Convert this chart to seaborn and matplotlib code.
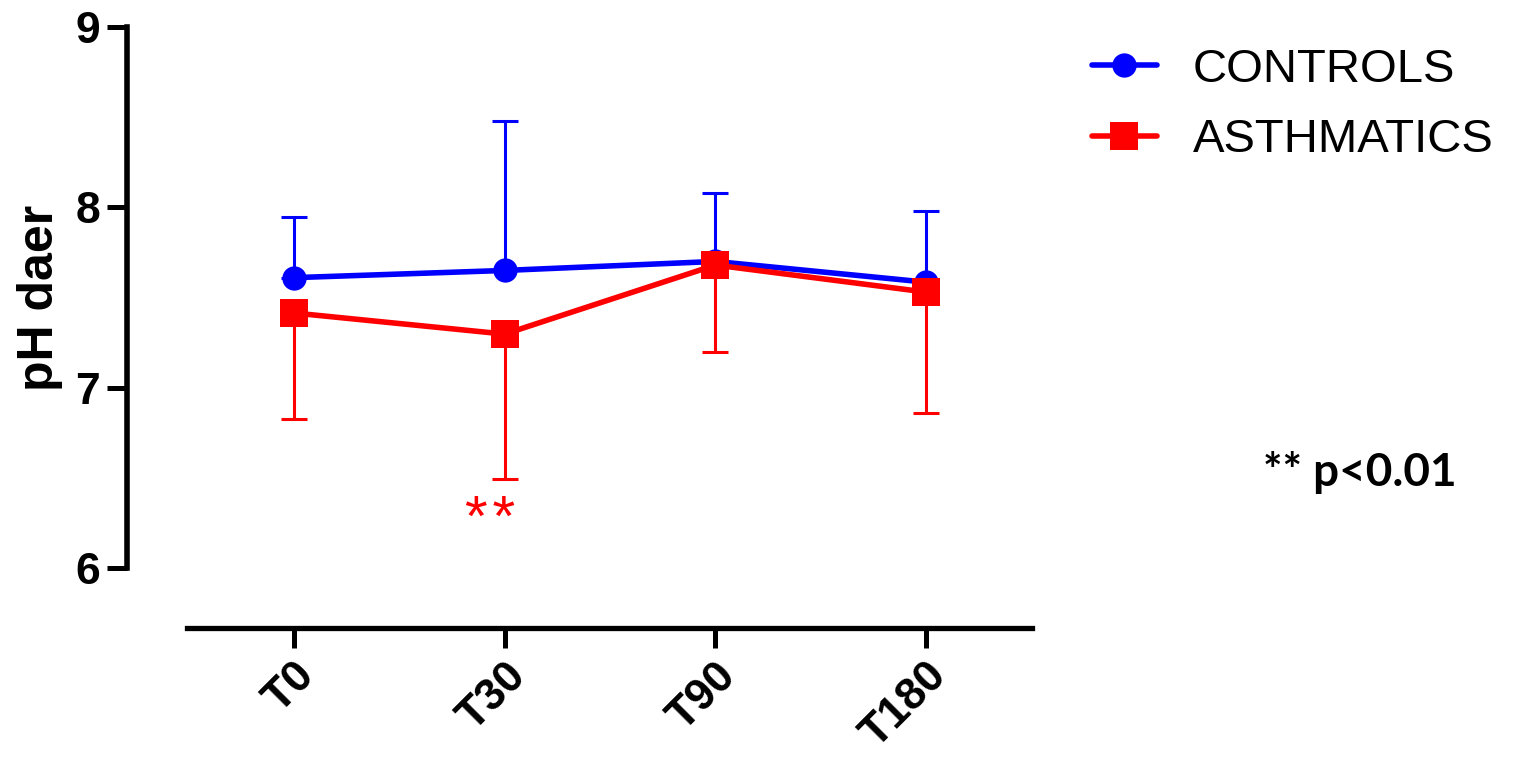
import matplotlib
matplotlib.use("Agg")
import matplotlib.pyplot as plt
import seaborn as sns
import numpy as np
import pandas as pd

# ---- data ----
times = ["T0", "T30", "T90", "T180"]
groups = ["CONTROLS", "ASTHMATICS"]
controls_mean = [7.61, 7.65, 7.70, 7.585]
controls_upper = [7.946, 8.479, 8.079, 7.98]     # mean + SD (upper bar only)
asthmatics_mean = [7.414, 7.297, 7.68, 7.53]
asthmatics_lower = [6.826, 6.493, 7.197, 6.86]   # mean - SD (lower bar only)
yticks = [6, 7, 8, 9]
ylabel = "pH daer"
sig_label = "*\u200a*"
pval_note = "** p<0.01"

colors = {"CONTROLS": "#0000FF", "ASTHMATICS": "#FF0000"}
markers = {"CONTROLS": "o", "ASTHMATICS": "s"}
msizes = {"CONTROLS": 17.5, "ASTHMATICS": 19.5}

pos = np.arange(len(times))
df = pd.DataFrame({
    "pos": np.concatenate([pos, pos]),
    "time": times * 2,
    "group": [groups[0]] * len(times) + [groups[1]] * len(times),
    "pH": controls_mean + asthmatics_mean,
})

sns.set_style("ticks")
plt.rcParams["font.family"] = ["Liberation Sans", "DejaVu Sans"]
plt.rcParams["text.color"] = "black"
plt.rcParams["axes.labelcolor"] = "black"
plt.rcParams["xtick.color"] = "black"
plt.rcParams["ytick.color"] = "black"

W, H = 1518, 757
fig = plt.figure(figsize=(W / 100, H / 100), dpi=100)
ax = fig.add_axes([187 / W, 1 - 628 / H, (1032 - 187) / W, (628 - 20) / H])

# error bars (one-sided)
cm = np.array(controls_mean)
am = np.array(asthmatics_mean)
ax.errorbar(pos, cm, yerr=[np.zeros_like(cm), np.array(controls_upper) - cm],
            fmt="none", ecolor=colors["CONTROLS"], elinewidth=2.2,
            capsize=9.7, capthick=2.2, zorder=1)
ax.errorbar(pos, am, yerr=[am - np.array(asthmatics_lower), np.zeros_like(am)],
            fmt="none", ecolor=colors["ASTHMATICS"], elinewidth=2.2,
            capsize=9.7, capthick=2.2, zorder=1)

for g in groups:
    sns.lineplot(data=df[df["group"] == g], x="pos", y="pH", color=colors[g],
                 marker=markers[g], markersize=msizes[g], markeredgewidth=0,
                 linewidth=4, label=g, ax=ax, zorder=3, errorbar=None)

ax.set_xlim(-0.508, 3.503)
ax.set_ylim(5.667, 9.039)
ax.set_xticks(pos)
ax.set_xticklabels(times)
ax.set_yticks(yticks)
ax.set_yticklabels([str(v) for v in yticks])
ax.set_xlabel("")

for s in ["top", "right"]:
    ax.spines[s].set_visible(False)
ax.spines["left"].set_position(("outward", 43.2))
ax.spines["left"].set_bounds(6, 9)
ax.spines["left"].set_linewidth(4)
ax.spines["bottom"].set_linewidth(3.8)
ax.spines["left"].set_color("black")
ax.spines["bottom"].set_color("black")

ax.tick_params(axis="both", length=14.4, width=3.6, labelsize=32, pad=5,
               colors="black", direction="out")
for lbl in ax.get_yticklabels():
    lbl.set_fontweight("bold")
for lbl in ax.get_xticklabels():
    lbl.set_fontweight("bold")
    lbl.set_rotation(45)
    lbl.set_ha("right")
    lbl.set_rotation_mode("anchor")

ax.set_ylabel(ylabel, fontsize=36, fontweight="bold", color="black")
ax.yaxis.set_label_coords(-0.147, 0.5436)

ax.text(0.93, 6.175, sig_label, color="red", fontsize=42, ha="center", va="baseline")

handles, labels = ax.get_legend_handles_labels()
leg = ax.legend(handles, labels, loc="upper left", bbox_to_anchor=(1092 / W, 1 - 48 / H),
                bbox_transform=fig.transFigure, frameon=False, fontsize=34,
                handlelength=1.37, handletextpad=0.76, labelspacing=0.56,
                borderpad=0, borderaxespad=0)
for t in leg.get_texts():
    t.set_color("black")

fig.text(1360 / W, 1 - 472 / H, pval_note, fontsize=33, fontweight="bold",
         family=["Lato", "DejaVu Sans"], ha="center", va="center", color="black")

fig.savefig("out.png", dpi=100, facecolor="white")
